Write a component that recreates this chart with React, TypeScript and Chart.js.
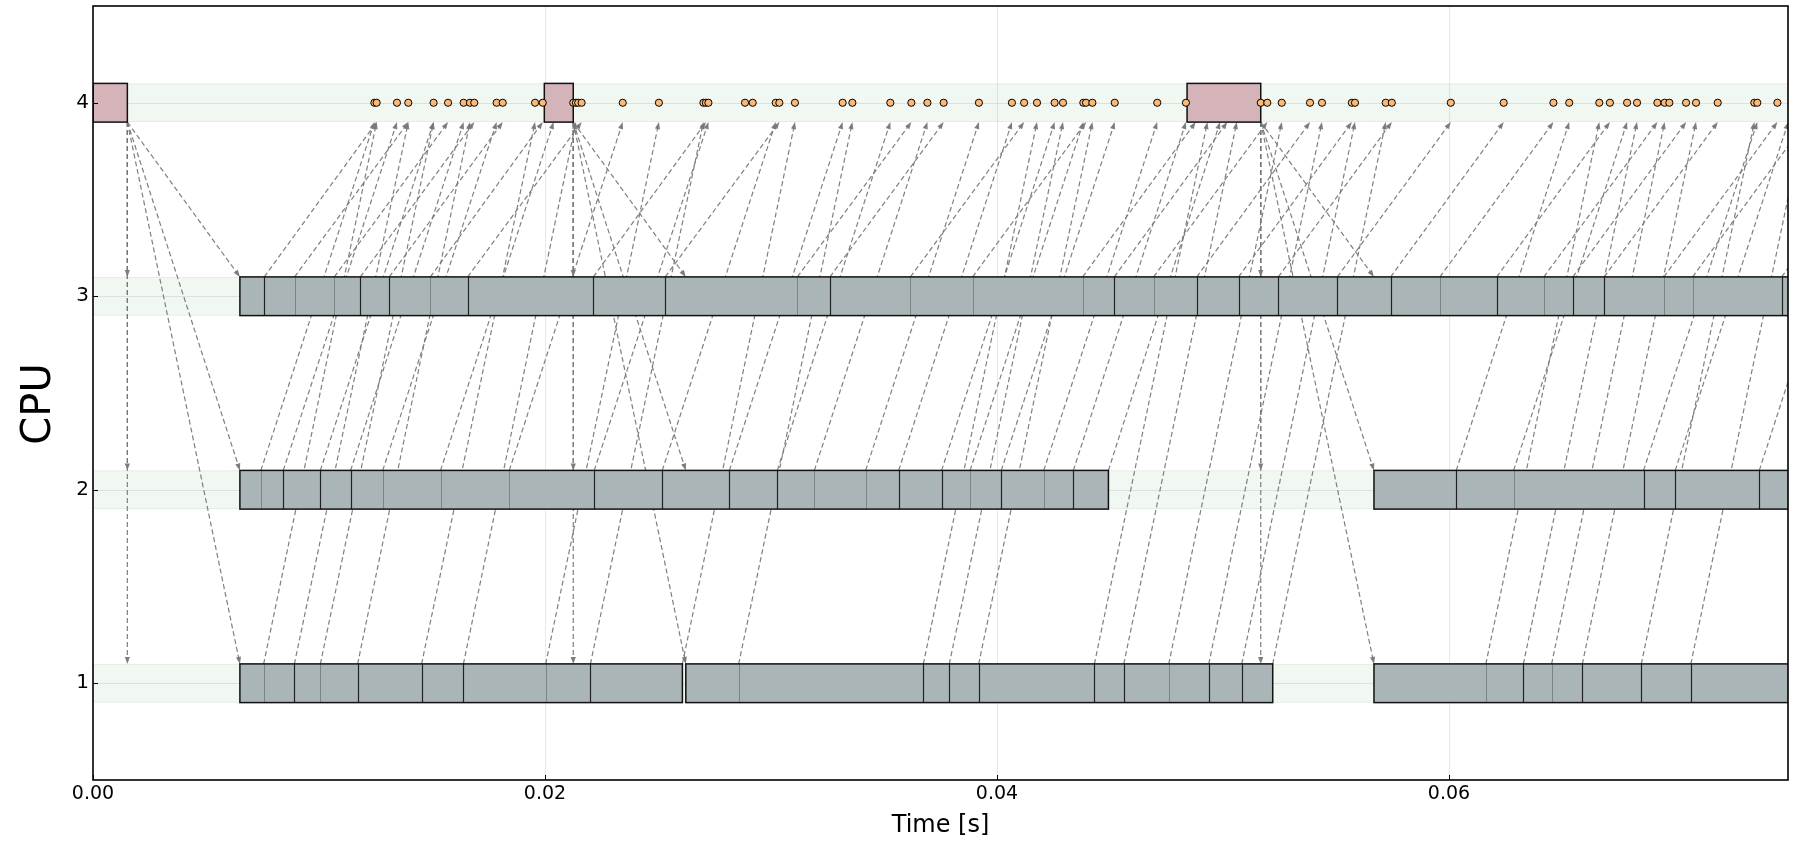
import { useEffect, useRef } from 'react';
import { Chart, registerables } from 'chart.js';

Chart.register(...registerables);

// ---------- axes ----------
const X_MIN = 0;
const X_MAX = 0.075;
const Y_MIN = 0.5;
const Y_MAX = 4.5;
const X_TICKS = [0, 0.02, 0.04, 0.06];
const CPU_ROWS = [1, 2, 3, 4];
const ARRIVAL_CPU = 4;
const X_TITLE = 'Time [s]';
const Y_TITLE = 'CPU';

// ---------- interrupt boxes on CPU 4 ----------
const IRQ_START = [0.0, 0.01997, 0.04841];
const IRQ_END = [0.00152, 0.02125, 0.05167];
const IRQ_DISPATCH = [0.0065, 0.02623, 0.05668];

// ---------- release markers on CPU 4 ----------
const RELEASE_TIMES = [
  0.01245, 0.01255, 0.01345, 0.01395, 0.01507, 0.01571, 0.0164, 0.01668, 0.01687, 0.01786,
  0.01813, 0.01956, 0.0199, 0.02125, 0.02137, 0.02147, 0.02162, 0.02344, 0.02504, 0.02701,
  0.02712, 0.02723, 0.02885, 0.02919, 0.03021, 0.03037, 0.03106, 0.03317, 0.0336, 0.03528,
  0.03621, 0.03692, 0.03764, 0.0392, 0.04066, 0.0412, 0.04177, 0.04255, 0.04292, 0.04382,
  0.04394, 0.04422, 0.04521, 0.04709, 0.04836, 0.05167, 0.05196, 0.0526, 0.05385, 0.05438,
  0.0557, 0.05584, 0.0572, 0.05747, 0.06008, 0.06242, 0.06462, 0.06532, 0.06665, 0.06712,
  0.06788, 0.06832, 0.06922, 0.06954, 0.06975, 0.07049, 0.07093, 0.07189, 0.07351, 0.07364,
  0.07453,
];

// ---------- runs (busy intervals) per CPU ----------
const CPU1_RUNS = [
  [0.0065, 0.02608],
  [0.02623, 0.0522],
  [0.05668, 0.0765],
];
const CPU2_RUNS = [
  [0.0065, 0.04493],
  [0.05668, 0.0765],
];
const CPU3_RUNS = [[0.0065, 0.0765]];

// ---------- context switches inside the runs ----------
const CPU1_SWITCHES = [
  0.00755, 0.00891, 0.01006, 0.01171, 0.01454, 0.01639, 0.02003, 0.02201, 0.02857, 0.03674,
  0.03789, 0.03919, 0.04431, 0.04561, 0.0476, 0.04937, 0.05083, 0.06163, 0.06329, 0.06454,
  0.0659, 0.06851, 0.0707,
];
const CPU1_SWITCH_DARK = [0, 1, 0, 1, 1, 1, 0, 1, 0, 1, 1, 1, 1, 1, 0, 1, 1, 0, 1, 0, 1, 1, 1];

const CPU2_SWITCHES = [
  0.00743, 0.00842, 0.01006, 0.0114, 0.01282, 0.01538, 0.01842, 0.02218, 0.02519, 0.02816,
  0.03028, 0.03192, 0.03419, 0.03565, 0.03755, 0.03881, 0.04019, 0.04207, 0.04338, 0.06032,
  0.06286, 0.06861, 0.07001, 0.07373,
];
const CPU2_SWITCH_DARK = [0, 1, 1, 1, 0, 0, 0, 1, 1, 1, 1, 0, 0, 1, 1, 0, 1, 0, 1, 1, 0, 1, 1, 1];

const CPU3_SWITCHES = [
  0.00758, 0.00892, 0.01068, 0.01183, 0.01311, 0.01493, 0.01658, 0.02214, 0.02532, 0.03117,
  0.03261, 0.03617, 0.03892, 0.04379, 0.04519, 0.04693, 0.04884, 0.05069, 0.05245, 0.05506,
  0.05742, 0.0596, 0.06211, 0.0642, 0.06548, 0.06687, 0.06951, 0.07078, 0.07472,
];
const CPU3_SWITCH_DARK = [
  1, 0, 0, 1, 1, 0, 1, 1, 1, 0, 1, 0, 0, 0, 1, 0, 1, 1, 1, 1, 1, 0, 1, 0, 1, 1, 0, 0, 1,
];

// ---------- links: start on a CPU -> release on CPU 4 ----------
const CPU1_LINK_FROM = [
  0.00755, 0.00891, 0.01006, 0.01171, 0.01454, 0.01639, 0.02003, 0.02201, 0.02608, 0.02857,
  0.03674, 0.03789, 0.03919, 0.04431, 0.04561, 0.0476, 0.04937, 0.05083, 0.0522, 0.06163,
  0.06329, 0.06454, 0.0659, 0.06851, 0.0707,
];
const CPU1_LINK_TO = [
  0.01255, 0.01395, 0.01507, 0.01668, 0.01956, 0.02137, 0.02504, 0.02701, 0.03106, 0.0336,
  0.04177, 0.04292, 0.04422, 0.04931, 0.05061, 0.0526, 0.05438, 0.05584, 0.0572, 0.06665,
  0.06832, 0.06954, 0.07093, 0.07351, 0.0757,
];

const CPU2_LINK_FROM = [
  0.00743, 0.00842, 0.01006, 0.0114, 0.01282, 0.01538, 0.01842, 0.02218, 0.02519, 0.02816,
  0.03028, 0.03192, 0.03419, 0.03565, 0.03755, 0.03881, 0.04019, 0.04207, 0.04338, 0.04493,
  0.06032, 0.06286, 0.06861, 0.07001, 0.07373,
];
const CPU2_LINK_TO = [
  0.01245, 0.01345, 0.01507, 0.0164, 0.01786, 0.02038, 0.02344, 0.02723, 0.03021, 0.03317,
  0.03528, 0.03692, 0.0392, 0.04066, 0.04255, 0.04382, 0.04521, 0.04709, 0.04836, 0.04987,
  0.06532, 0.06788, 0.07364, 0.07501, 0.07873,
];

const CPU3_LINK_FROM = [
  0.00758, 0.00892, 0.01068, 0.01183, 0.01311, 0.01493, 0.01658, 0.02214, 0.02532, 0.03117,
  0.03261, 0.03617, 0.03892, 0.04379, 0.04519, 0.04693, 0.04884, 0.05069, 0.05245, 0.05506,
  0.05742, 0.0596, 0.06211, 0.0642, 0.06548, 0.06687, 0.06951, 0.07078, 0.07472,
];
const CPU3_LINK_TO = [
  0.01255, 0.01395, 0.01571, 0.01687, 0.01813, 0.0199, 0.02162, 0.02712, 0.03037, 0.03621,
  0.03764, 0.0412, 0.04394, 0.04879, 0.05019, 0.05196, 0.05385, 0.0557, 0.05747, 0.06008,
  0.06242, 0.06462, 0.06712, 0.06922, 0.07049, 0.07189, 0.07453, 0.07578, 0.07972,
];

// ---------- styling ----------
const BAND_HALF = 0.1;
const FONT = "'DejaVu Sans', sans-serif";
const BAND_FILL = 'rgb(241,248,241)';
const RUN_FILL = '#a9b5b6';
const IRQ_FILL = '#d4b3b9';
const DOT_FILL = '#fbb877';
const ARROW_COLOR = 'rgba(120,120,120,0.95)';

type Rows = { cpu: number; runs: number[][]; sw: number[]; dark: number[]; from: number[]; to: number[] };

const ROWS: Rows[] = [
  { cpu: 1, runs: CPU1_RUNS, sw: CPU1_SWITCHES, dark: CPU1_SWITCH_DARK, from: CPU1_LINK_FROM, to: CPU1_LINK_TO },
  { cpu: 2, runs: CPU2_RUNS, sw: CPU2_SWITCHES, dark: CPU2_SWITCH_DARK, from: CPU2_LINK_FROM, to: CPU2_LINK_TO },
  { cpu: 3, runs: CPU3_RUNS, sw: CPU3_SWITCHES, dark: CPU3_SWITCH_DARK, from: CPU3_LINK_FROM, to: CPU3_LINK_TO },
];

function drawArrow(ctx: CanvasRenderingContext2D, x1: number, y1: number, x2: number, y2: number) {
  const ang = Math.atan2(y2 - y1, x2 - x1);
  const L = 7;
  const W = 2.6;
  const c = Math.cos(ang);
  const s = Math.sin(ang);
  ctx.setLineDash([5, 3]);
  ctx.beginPath();
  ctx.moveTo(x1, y1);
  ctx.lineTo(x2 - c * L * 0.6, y2 - s * L * 0.6);
  ctx.stroke();
  ctx.setLineDash([]);
  ctx.beginPath();
  ctx.moveTo(x2, y2);
  ctx.lineTo(x2 - L * c + W * s, y2 - L * s - W * c);
  ctx.lineTo(x2 - L * c - W * s, y2 - L * s + W * c);
  ctx.closePath();
  ctx.fill();
}

const timelinePlugin = {
  id: 'timeline',
  beforeDatasetsDraw(chart: any) {
    const { ctx, chartArea: a, scales } = chart;
    const xs = scales.x;
    const ys = scales.y;
    const px = (v: number) => xs.getPixelForValue(v);
    const py = (v: number) => ys.getPixelForValue(v);
    ctx.save();
    ctx.beginPath();
    ctx.rect(a.left, a.top, a.right - a.left, a.bottom - a.top);
    ctx.clip();

    // bands
    for (const c of CPU_ROWS) {
      const t = py(c + BAND_HALF);
      const b = py(c - BAND_HALF);
      ctx.fillStyle = BAND_FILL;
      ctx.fillRect(a.left, t, a.right - a.left, b - t);
      ctx.strokeStyle = 'rgba(0,0,0,0.05)';
      ctx.lineWidth = 1;
      ctx.beginPath();
      ctx.moveTo(a.left, t + 0.5);
      ctx.lineTo(a.right, t + 0.5);
      ctx.moveTo(a.left, b - 0.5);
      ctx.lineTo(a.right, b - 0.5);
      ctx.stroke();
    }
    // grid
    ctx.strokeStyle = 'rgba(0,0,0,0.09)';
    ctx.lineWidth = 1;
    ctx.beginPath();
    for (const c of CPU_ROWS) {
      const y = Math.round(py(c)) + 0.5;
      ctx.moveTo(a.left, y);
      ctx.lineTo(a.right, y);
    }
    for (const v of X_TICKS) {
      if (v === X_MIN) continue;
      const x = Math.round(px(v)) + 0.5;
      ctx.moveTo(x, a.top);
      ctx.lineTo(x, a.bottom);
    }
    ctx.stroke();

    // arrows
    ctx.strokeStyle = ARROW_COLOR;
    ctx.fillStyle = ARROW_COLOR;
    ctx.lineWidth = 1.2;
    const yArr = py(ARRIVAL_CPU - BAND_HALF);
    for (const r of ROWS) {
      const yTop = py(r.cpu + BAND_HALF);
      for (let i = 0; i < r.from.length; i++) {
        drawArrow(ctx, px(r.from[i]), yTop, px(r.to[i]), yArr);
      }
    }
    for (let k = 0; k < IRQ_END.length; k++) {
      for (const r of ROWS) {
        const yTop = py(r.cpu + BAND_HALF);
        drawArrow(ctx, px(IRQ_END[k]), yArr, px(IRQ_END[k]), yTop);
        drawArrow(ctx, px(IRQ_END[k]), yArr, px(IRQ_DISPATCH[k]), yTop);
      }
    }

    // runs
    for (const r of ROWS) {
      const t = py(r.cpu + BAND_HALF);
      const b = py(r.cpu - BAND_HALF);
      for (const [s, e] of r.runs) {
        const x1 = px(s);
        const x2 = px(e);
        ctx.fillStyle = RUN_FILL;
        ctx.fillRect(x1, t, x2 - x1, b - t);
        for (let i = 0; i < r.sw.length; i++) {
          const v = r.sw[i];
          if (v <= s || v >= e) continue;
          const x = Math.round(px(v)) + 0.5;
          ctx.strokeStyle = r.dark[i] ? 'rgba(0,0,0,0.8)' : 'rgba(40,40,40,0.35)';
          ctx.lineWidth = r.dark[i] ? 1.2 : 1;
          ctx.beginPath();
          ctx.moveTo(x, t);
          ctx.lineTo(x, b);
          ctx.stroke();
        }
        ctx.strokeStyle = '#111';
        ctx.lineWidth = 1.5;
        ctx.strokeRect(x1, t, x2 - x1, b - t);
      }
    }

    // interrupt boxes
    for (let k = 0; k < IRQ_START.length; k++) {
      const x1 = px(IRQ_START[k]);
      const x2 = px(IRQ_END[k]);
      const t = py(ARRIVAL_CPU + BAND_HALF);
      const b = py(ARRIVAL_CPU - BAND_HALF);
      ctx.fillStyle = IRQ_FILL;
      ctx.fillRect(x1, t, x2 - x1, b - t);
      ctx.strokeStyle = '#111';
      ctx.lineWidth = 1.5;
      ctx.strokeRect(x1, t, x2 - x1, b - t);
    }
    ctx.restore();
  },
  afterDraw(chart: any) {
    const { ctx, chartArea: a, scales } = chart;
    const xs = scales.x;
    const ys = scales.y;
    ctx.save();
    ctx.strokeStyle = '#000';
    ctx.lineWidth = 1;
    ctx.beginPath();
    for (const c of CPU_ROWS) {
      const y = Math.round(ys.getPixelForValue(c)) + 0.5;
      ctx.moveTo(a.left, y);
      ctx.lineTo(a.left + 5, y);
    }
    for (const v of X_TICKS) {
      const x = Math.round(xs.getPixelForValue(v)) + 0.5;
      ctx.moveTo(x, a.bottom);
      ctx.lineTo(x, a.bottom - 5);
    }
    ctx.stroke();
    ctx.strokeStyle = '#000';
    ctx.lineWidth = 1.6;
    ctx.strokeRect(a.left, a.top, a.right - a.left, a.bottom - a.top);
    ctx.fillStyle = '#000';
    ctx.textAlign = 'center';
    ctx.textBaseline = 'middle';
    ctx.font = `24px ${FONT}`;
    ctx.fillText(X_TITLE, (a.left + a.right) / 2, 826);
    ctx.translate(40, 404);
    ctx.rotate(-Math.PI / 2);
    ctx.font = `40px ${FONT}`;
    ctx.fillText(Y_TITLE, 0, 0);
    ctx.restore();
  },
};

export default function App() {
  const ref = useRef<HTMLCanvasElement | null>(null);
  useEffect(() => {
    document.body.style.margin = '0';
    const canvas = ref.current;
    if (!canvas) return;
    const chart = new Chart(canvas, {
      type: 'scatter',
      data: {
        datasets: [
          {
            data: RELEASE_TIMES.map((t) => ({ x: t, y: ARRIVAL_CPU })),
            pointRadius: 3.6,
            pointHoverRadius: 3.6,
            pointBackgroundColor: DOT_FILL,
            pointBorderColor: '#000',
            pointBorderWidth: 1,
          },
        ],
      },
      options: {
        animation: false,
        responsive: false,
        events: [],
        layout: { padding: { top: 6, right: 9, left: 0, bottom: 0 } },
        plugins: { legend: { display: false }, tooltip: { enabled: false } },
        scales: {
          x: {
            type: 'linear',
            min: X_MIN,
            max: X_MAX,
            afterBuildTicks: (s: any) => {
              s.ticks = X_TICKS.map((v) => ({ value: v }));
            },
            afterFit: (s: any) => {
              s.height = 62;
              s.paddingLeft = 0;
              s.paddingRight = 0;
            },
            grid: { display: false, drawTicks: false },
            border: { display: false },
            ticks: {
              callback: (v: any) => Number(v).toFixed(2),
              font: { family: FONT, size: 19 },
              color: '#000',
              padding: 3,
              maxRotation: 0,
              autoSkip: false,
            },
          },
          y: {
            type: 'linear',
            min: Y_MIN,
            max: Y_MAX,
            afterBuildTicks: (s: any) => {
              s.ticks = CPU_ROWS.map((v) => ({ value: v }));
            },
            afterFit: (s: any) => {
              s.width = 93;
              s.paddingTop = 0;
              s.paddingBottom = 0;
            },
            grid: { display: false, drawTicks: false },
            border: { display: false },
            ticks: {
              callback: (v: any) => String(v),
              font: { family: FONT, size: 20 },
              color: '#000',
              padding: 4,
              autoSkip: false,
            },
          },
        },
      },
      plugins: [timelinePlugin],
    } as any);
    return () => chart.destroy();
  }, []);
  return (
    <div style={{ width: 1797, height: 842 }}>
      <canvas ref={ref} width={1797} height={842} style={{ display: 'block', width: 1797, height: 842 }} />
    </div>
  );
}
